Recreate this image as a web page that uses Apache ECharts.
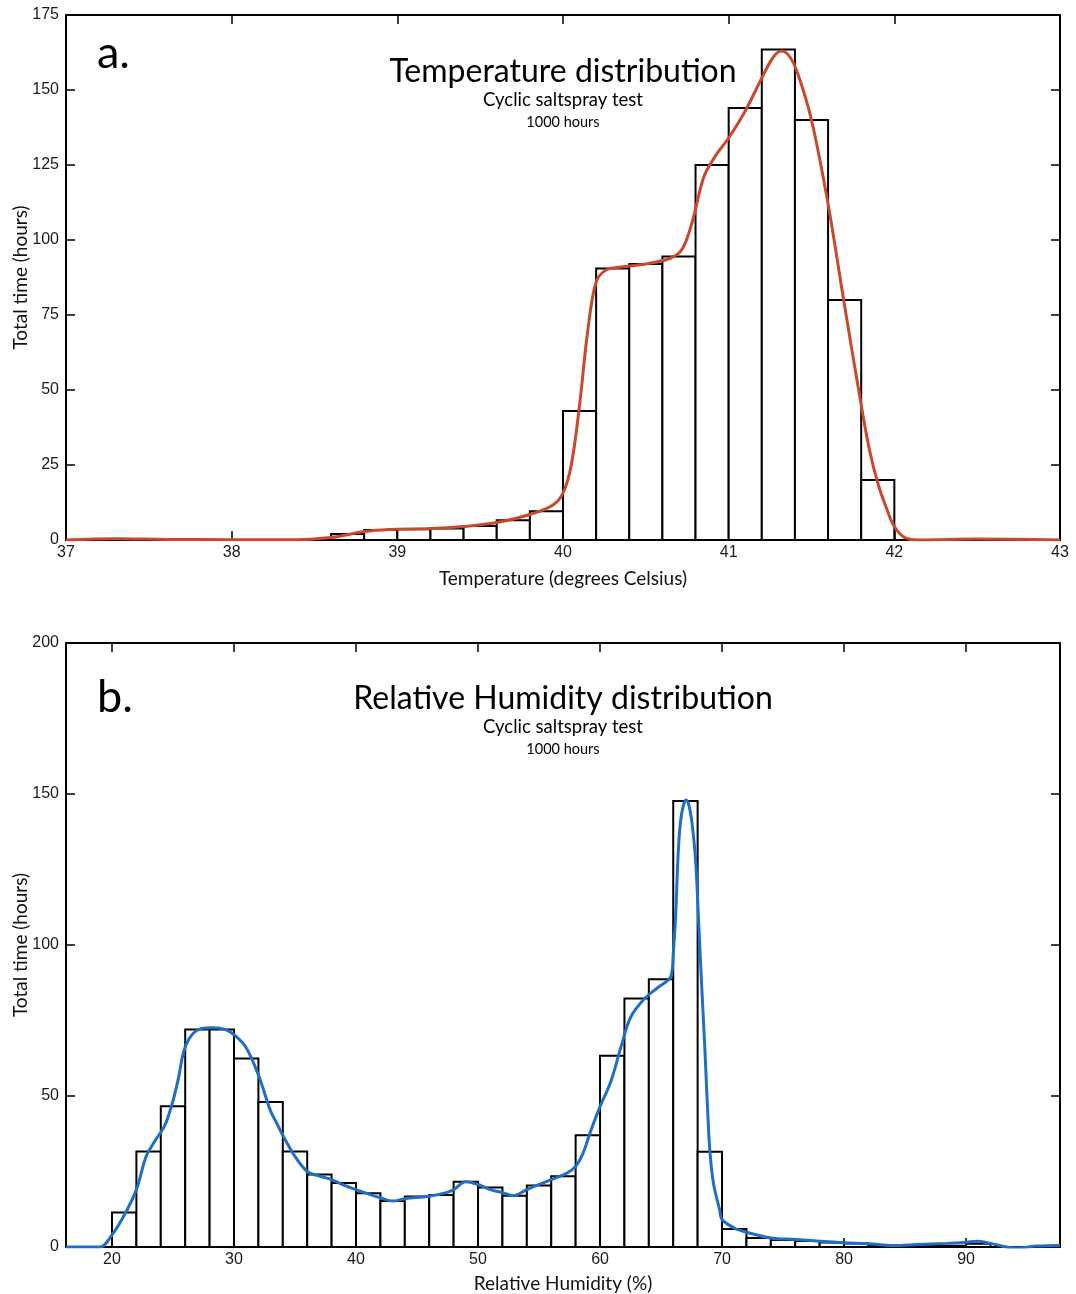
<!DOCTYPE html>
<html>
<head>
<meta charset="utf-8">
<script src="https://cdn.jsdelivr.net/npm/echarts@6/dist/echarts.min.js"></script>
<style>
  html, body { margin: 0; padding: 0; background: #fff; }
  #chart { width: 1076px; height: 1294px; }
</style>
</head>
<body>
<div id="chart"></div>
<script>
// ---- Panel a: temperature histogram (0.2 °C bins) ----
const tempBinWidth = 0.2;
const tempBinStart = [38.6, 38.8, 39.0, 39.2, 39.4, 39.6, 39.8, 40.0, 40.2, 40.4, 40.6, 40.8, 41.0, 41.2, 41.4, 41.6, 41.8];
const tempHours    = [2, 3.3, 3.6, 3.8, 4.7, 6.6, 9.6, 43, 90.5, 92, 94.5, 125, 144, 163.5, 140, 80, 20];
// smoothed density curve, [°C, hours]
const tempDensity = [
  [37.0, 0], [37.3, 0.4], [37.6, 0.2], [38.0, 0.1], [38.4, 0.1], [38.6, 0.8], [38.8, 2.8], [38.95, 3.5],
  [39.2, 3.8], [39.4, 4.5], [39.6, 5.8], [39.8, 8.5], [39.94, 11.7], [40.0, 15.6], [40.05, 25], [40.1, 45],
  [40.15, 70], [40.2, 86], [40.26, 90], [40.35, 91], [40.5, 92], [40.65, 94], [40.72, 97], [40.78, 106],
  [40.85, 121], [40.92, 128], [41.0, 134], [41.1, 143], [41.2, 154], [41.27, 161], [41.32, 163],
  [41.37, 161], [41.42, 155], [41.5, 140], [41.6, 112], [41.7, 78], [41.8, 45], [41.85, 30], [41.9, 19],
  [41.95, 11], [42.0, 4.5], [42.07, 0.6], [42.15, 0], [42.5, 0.3], [43.0, 0]
];

// ---- Panel b: relative humidity histogram (2 % bins) ----
const rhBinWidth = 2;
const rhBinStart = [20, 22, 24, 26, 28, 30, 32, 34, 36, 38, 40, 42, 44, 46, 48, 50, 52, 54, 56, 58,
                    60, 62, 64, 66, 68, 70, 72, 74, 76, 78, 80, 82, 84, 86, 88, 90];
const rhHours    = [11.4, 31.6, 46.6, 72, 72, 62.4, 48, 31.6, 24, 21.2, 17.8, 15.2, 16.7, 17.2, 21.6, 19.7, 17, 20.4, 23.4, 37,
                    63.3, 82.3, 88.7, 147.7, 31.5, 6, 3, 2.3, 2, 1.5, 1.2, 0.5, 0.4, 0.4, 0.4, 1.1];
// smoothed density curve, [% RH, hours]
const rhDensity = [
  [16.23, 0], [19.0, 0], [20.0, 4], [21.0, 10.5], [22.0, 19], [22.8, 30], [23.5, 35], [24.3, 40],
  [24.9, 47], [25.4, 55], [25.9, 65], [26.5, 70], [27.3, 72.3], [28.3, 72.6], [29.3, 72], [30.1, 70],
  [31.0, 66], [32.0, 57], [32.5, 51], [33.0, 45], [33.5, 41], [34.0, 37], [35.0, 30], [36.0, 25],
  [37.0, 23.5], [38.0, 22.3], [39.0, 20.5], [40.0, 19], [41.0, 17.6], [42.0, 16.3], [43.0, 15.2],
  [44.0, 16], [46.0, 16.8], [47.4, 18], [48.0, 19], [49.0, 21.6], [50.0, 20.7], [51.0, 19], [52.0, 18],
  [52.9, 17], [54.0, 19], [56.0, 22.3], [57.3, 24.5], [58.0, 26.7], [58.6, 31], [59.2, 38], [59.9, 45.5],
  [60.9, 55], [61.7, 66], [62.5, 76], [63.6, 82], [64.7, 85.8], [65.8, 89.6], [66.0, 97], [66.2, 110],
  [66.4, 130], [66.6, 141], [66.85, 146.5], [67.05, 148], [67.3, 146], [67.55, 140], [67.85, 127],
  [68.1, 106], [68.35, 85], [68.6, 65], [68.8, 47], [69.0, 32], [69.3, 21], [69.8, 12.4], [70.0, 9.1],
  [71.0, 6.3], [72.0, 4.9], [74.0, 3], [76.0, 2.5], [78.0, 1.9], [80.0, 1.4], [82.0, 1.1], [84.0, 0.5],
  [86.0, 0.8], [88.4, 1.2], [90.0, 1.6], [90.9, 1.9], [92.0, 1.2], [93.3, 0], [94.2, -0.3], [95.8, 0.3],
  [97.7, 0.5]
];

// axis ranges and ticks
const tempTicks = [37, 38, 39, 40, 41, 42, 43];
const tempHoursTicks = [0, 25, 50, 75, 100, 125, 150, 175];
const rhTicks = [20, 30, 40, 50, 60, 70, 80, 90];
const rhRange = [16.23, 97.7];
const rhHoursTicks = [0, 50, 100, 150, 200];

const TEMP_COLOR = '#c8492b';
const RH_COLOR = '#1f6fc2';
const LABEL_FONT = '"Liberation Sans", Arial, sans-serif';
const TEXT_FONT = 'Lato, "Open Sans", sans-serif';

function zip(xs, ys) { return xs.map((x, i) => [x, ys[i]]); }

// histogram bin drawn as an outlined rectangle from [start, 0] to [start + width, value]
function binRenderer(width) {
  return function (params, api) {
    const x0 = api.value(0);
    const h = api.value(1);
    const pTop = api.coord([x0, h]);
    const pBase = api.coord([x0 + width, 0]);
    return {
      type: 'rect',
      shape: { x: pTop[0], y: pTop[1], width: pBase[0] - pTop[0], height: pBase[1] - pTop[1] },
      style: { fill: '#fff', stroke: '#000', lineWidth: 2 }
    };
  };
}

const axisLine = { show: true, onZero: false, lineStyle: { color: '#000', width: 2 } };
const tickIn = { show: true, inside: true, length: 9, lineStyle: { color: '#000', width: 1.5 } };
const tickLabel = { color: '#1a1a1a', fontSize: 16, fontFamily: LABEL_FONT };

function xAxes(grid, min, max, opts) {
  const base = { gridIndex: grid, type: 'value', min: min, max: max, splitLine: { show: false }, axisLine: axisLine };
  return [
    Object.assign({}, base, {
      position: 'bottom',
      axisTick: Object.assign({}, tickIn, opts.tickValues ? { customValues: opts.tickValues } : {}),
      axisLabel: Object.assign({ margin: 5 }, tickLabel, opts.tickValues ? { customValues: opts.tickValues } : {}),
      interval: opts.interval,
      name: opts.name, nameLocation: 'middle', nameGap: opts.nameGap, nameMoveOverlap: false,
      nameTextStyle: { color: '#111', fontSize: 19, fontFamily: TEXT_FONT }
    }),
    Object.assign({}, base, {
      position: 'top',
      interval: opts.interval,
      axisTick: Object.assign({}, tickIn, opts.tickValues ? { customValues: opts.tickValues } : {}),
      axisLabel: { show: false }
    })
  ];
}

function yAxes(grid, max, interval) {
  const base = { gridIndex: grid, type: 'value', min: 0, max: max, interval: interval, splitLine: { show: false }, axisLine: axisLine };
  return [
    Object.assign({}, base, {
      position: 'left',
      axisTick: tickIn,
      axisLabel: Object.assign({ margin: 7 }, tickLabel),
      name: 'Total time (hours)', nameLocation: 'middle', nameGap: 36, nameRotate: 90, nameMoveOverlap: false,
      nameTextStyle: { color: '#111', fontSize: 19, fontFamily: TEXT_FONT }
    }),
    Object.assign({}, base, { position: 'right', axisTick: tickIn, axisLabel: { show: false } })
  ];
}

function headline(y, main, sub, note) {
  return [
    { type: 'text', x: 563, y: y, style: { text: main, fill: '#000', font: '32px ' + TEXT_FONT, textAlign: 'center', textVerticalAlign: 'middle' } },
    { type: 'text', x: 563, y: y + 28, style: { text: sub, fill: '#000', font: '18.5px ' + TEXT_FONT, textAlign: 'center', textVerticalAlign: 'middle' } },
    { type: 'text', x: 563, y: y + 50, style: { text: note, fill: '#000', font: '14.5px ' + TEXT_FONT, textAlign: 'center', textVerticalAlign: 'middle' } }
  ];
}

const chart = echarts.init(document.getElementById('chart'), null, { renderer: 'canvas' });

chart.setOption({
  animation: false,
  backgroundColor: '#fff',
  grid: [
    { left: 66, top: 15, width: 994, height: 525, outerBoundsMode: 'none', containLabel: false },
    { left: 66, top: 643, width: 994, height: 604, outerBoundsMode: 'none', containLabel: false }
  ],
  xAxis: [].concat(
    xAxes(0, tempTicks[0], tempTicks[tempTicks.length - 1], { interval: 1, name: 'Temperature (degrees Celsius)', nameGap: 29 }),
    xAxes(1, rhRange[0], rhRange[1], { tickValues: rhTicks, name: 'Relative Humidity (%)', nameGap: 27 })
  ),
  yAxis: [].concat(
    yAxes(0, tempHoursTicks[tempHoursTicks.length - 1], 25),
    yAxes(1, rhHoursTicks[rhHoursTicks.length - 1], 50)
  ),
  graphic: [].concat(
    [{ type: 'text', x: 97, y: 53, style: { text: 'a.', fill: '#000', font: '45px ' + TEXT_FONT, textVerticalAlign: 'middle' } },
     { type: 'text', x: 97, y: 697, style: { text: 'b.', fill: '#000', font: '45px ' + TEXT_FONT, textVerticalAlign: 'middle' } }],
    headline(72, 'Temperature distribution', 'Cyclic saltspray test', '1000 hours'),
    headline(699, 'Relative Humidity distribution', 'Cyclic saltspray test', '1000 hours')
  ),
  series: [
    {
      type: 'custom', xAxisIndex: 0, yAxisIndex: 0,
      renderItem: binRenderer(tempBinWidth),
      encode: { x: 0, y: 1 },
      data: zip(tempBinStart, tempHours)
    },
    {
      type: 'line', xAxisIndex: 0, yAxisIndex: 0,
      data: tempDensity, smooth: 0.35, showSymbol: false,
      lineStyle: { color: TEMP_COLOR, width: 3 }, z: 5
    },
    {
      type: 'custom', xAxisIndex: 2, yAxisIndex: 2,
      renderItem: binRenderer(rhBinWidth),
      encode: { x: 0, y: 1 },
      data: zip(rhBinStart, rhHours)
    },
    {
      type: 'line', xAxisIndex: 2, yAxisIndex: 2,
      data: rhDensity, smooth: 0.35, showSymbol: false,
      lineStyle: { color: RH_COLOR, width: 3 }, z: 5
    }
  ]
});
</script>
</body>
</html>
